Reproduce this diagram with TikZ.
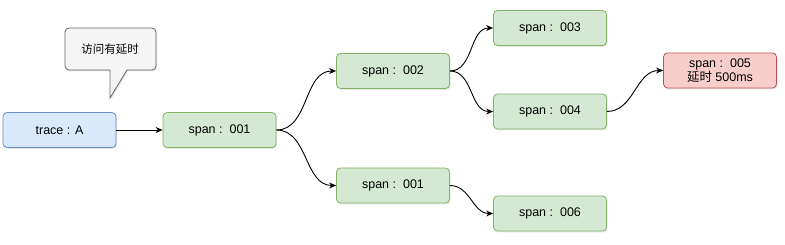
\documentclass[tikz,border=0pt]{standalone}
\usepackage{fontspec}
\setmainfont{Liberation Sans}
\newfontfamily\cjk{Noto Sans CJK SC}
\usepackage{xcolor}
\usepackage{tikz}
\usetikzlibrary{shadows}
\usetikzlibrary{arrows.meta,positioning}

\definecolor{bluefill}{HTML}{DAE8FC}
\definecolor{blueline}{HTML}{6C8EBF}
\definecolor{greenfill}{HTML}{D5E8D4}
\definecolor{greenline}{HTML}{82B366}
\definecolor{redfill}{HTML}{F8CECC}
\definecolor{redline}{HTML}{B85450}
\definecolor{notefill}{HTML}{F5F5F5}
\definecolor{noteline}{HTML}{666666}

\begin{document}
\begin{tikzpicture}[x=1pt,y=-1pt,>={Stealth[length=7pt,width=6pt]},
    spanbox/.style={draw=greenline, fill=greenfill, rounded corners=4pt,
        line width=0.8pt, minimum width=113pt, minimum height=35pt, align=center,
        font=\fontsize{12.5}{14}\selectfont,
        drop shadow={opacity=0.2, shadow xshift=1pt, shadow yshift=-1.5pt}},
    tracebox/.style={spanbox, draw=blueline, fill=bluefill},
    slowbox/.style={spanbox, draw=redline, fill=redfill},
    link/.style={->, line width=0.9pt}]
    \useasboundingbox (0,0) rectangle (785,245);

    \node[tracebox] (trace) at (59.5,130) {trace : A};
    \node[spanbox] (s001) at (219.5,130) {span :\ \ 001};
    \node[spanbox] (s002) at (393,71) {span :\ \ 002};
    \node[spanbox] (s001b) at (393,185.5) {span :\ \ 001};
    \node[spanbox] (s003) at (550,28) {span :\ \ 003};
    \node[spanbox] (s004) at (550,111.5) {span :\ \ 004};
    \node[spanbox] (s006) at (550,213.5) {span :\ \ 006};
    \node[slowbox] (s005) at (720,70.5) {span :\ \ 005\\{\cjk 延时} 500ms};

    % callout
    \draw[draw=noteline, fill=notefill, rounded corners=4pt, line width=0.8pt,
        drop shadow={opacity=0.2, shadow xshift=1pt, shadow yshift=-1.5pt}]
        (65,28) -- (156,28) -- (156,70) [sharp corners] -- (127,70) -- (110,98)
        -- (110,70) [rounded corners=4pt] -- (65,70) -- cycle;
    \node[font=\cjk\fontsize{11.5}{13.5}\selectfont] (note) at (110,49) {访问有延时};

    \draw[link] (trace) -- (s001);
    \draw[link] (s001.east) to[out=0,in=180] (s002.west);
    \draw[link] (s001.east) to[out=0,in=180] (s001b.west);
    \draw[link] (s002.east) to[out=0,in=180] (s003.west);
    \draw[link] (s002.east) to[out=0,in=180] (s004.west);
    \draw[link] (s001b.east) to[out=0,in=180] (s006.west);
    \draw[link] (s004.east) to[out=0,in=180] (s005.west);
\end{tikzpicture}
\end{document}
